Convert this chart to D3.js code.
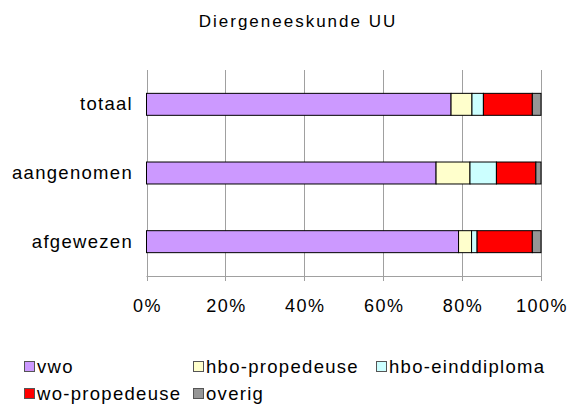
<!DOCTYPE html>
<html>
<head>
<meta charset="utf-8">
<script src="https://cdn.jsdelivr.net/npm/d3@7"></script>
<style>
  body { margin: 0; background: #fff; }
  svg { display: block; font-family: Arial, "Liberation Sans", sans-serif; }
</style>
</head>
<body>
<div id="chart"></div>
<script>
// --- Data ---
const categories = ['totaal', 'aangenomen', 'afgewezen'];
const seriesNames = ['vwo', 'hbo-propedeuse', 'hbo-einddiploma', 'wo-propedeuse', 'overig'];
const vwo = [77.2, 73.4, 79.1];
const hboPropedeuse = [5.3, 8.6, 3.3];
const hboEinddiploma = [2.9, 6.7, 1.4];
const woPropedeuse = [12.4, 10.0, 14.0];
const overig = [2.2, 1.3, 2.2];
const tickValues = [0, 0.2, 0.4, 0.6, 0.8, 1];
const colors = ['#cc99ff', '#ffffcc', '#ccffff', '#ff0000', '#969696'];

const width = 571, height = 413;
const margin = { top: 70, right: 30, bottom: 137, left: 146.5 };

const svg = d3.select('#chart').append('svg')
    .attr('width', width)
    .attr('height', height);

// table for the stack layout
const table = categories.map((c, i) => ({
    cat: c,
    'vwo': vwo[i],
    'hbo-propedeuse': hboPropedeuse[i],
    'hbo-einddiploma': hboEinddiploma[i],
    'wo-propedeuse': woPropedeuse[i],
    'overig': overig[i]
}));

const layers = d3.stack().keys(seriesNames).offset(d3.stackOffsetExpand)(table);

const x = d3.scaleLinear().domain([0, 1]).range([margin.left, 541]);
const y = d3.scaleBand().domain(categories)
    .range([margin.top, height - margin.bottom])
    .paddingInner(0.68).paddingOuter(0.34);
const color = d3.scaleOrdinal().domain(seriesNames).range(colors);

// title
svg.append('text')
    .attr('x', 298).attr('y', 27)
    .attr('text-anchor', 'middle')
    .style('font-size', '17px')
    .style('letter-spacing', '2px')
    .text('Diergeneeskunde UU');

// gridlines
svg.append('g').selectAll('line')
    .data(tickValues)
    .join('line')
    .attr('x1', d => Math.round(x(d)) + 0.5).attr('x2', d => Math.round(x(d)) + 0.5)
    .attr('y1', margin.top).attr('y2', height - margin.bottom + 5)
    .attr('stroke', '#a0a0a0');

// x axis line
svg.append('line')
    .attr('x1', x(0)).attr('x2', x(1) + 1)
    .attr('y1', height - margin.bottom + 0.5).attr('y2', height - margin.bottom + 0.5)
    .attr('stroke', '#a0a0a0');

// bars
svg.append('g').selectAll('g')
    .data(layers)
    .join('g')
    .attr('fill', d => color(d.key))
    .selectAll('rect')
    .data(d => d)
    .join('rect')
    .attr('x', d => x(d[0]))
    .attr('y', d => y(d.data.cat))
    .attr('width', d => x(d[1]) - x(d[0]))
    .attr('height', y.bandwidth())
    .attr('stroke', '#000')
    .attr('stroke-width', 1);

// tick labels
svg.append('g').selectAll('text')
    .data(tickValues)
    .join('text')
    .attr('x', d => x(d) + 1)
    .attr('y', 312)
    .attr('text-anchor', 'middle')
    .style('font-size', '18px')
    .style('letter-spacing', '1.5px')
    .text(d => d3.format('.0%')(d));

// category labels
svg.append('g').selectAll('text')
    .data(categories)
    .join('text')
    .attr('x', 133)
    .attr('y', d => y(d) + y.bandwidth() / 2 + 6)
    .attr('text-anchor', 'end')
    .style('font-size', '18.5px')
    .style('letter-spacing', '1.3px')
    .text(d => d);

// legend
const legendPos = [[24, 373], [193, 373], [376, 373], [24, 400], [193, 400]];
const legend = svg.append('g').selectAll('g')
    .data(seriesNames)
    .join('g')
    .attr('transform', (d, i) => `translate(${legendPos[i][0]},${legendPos[i][1]})`);

legend.append('rect')
    .attr('x', 0.5).attr('y', -11.5)
    .attr('width', 10).attr('height', 10)
    .attr('fill', d => color(d))
    .attr('stroke', '#555');

legend.append('text')
    .attr('x', 13).attr('y', 0)
    .style('font-size', '18.5px')
    .style('letter-spacing', '1.3px')
    .text(d => d);
</script>
</body>
</html>
